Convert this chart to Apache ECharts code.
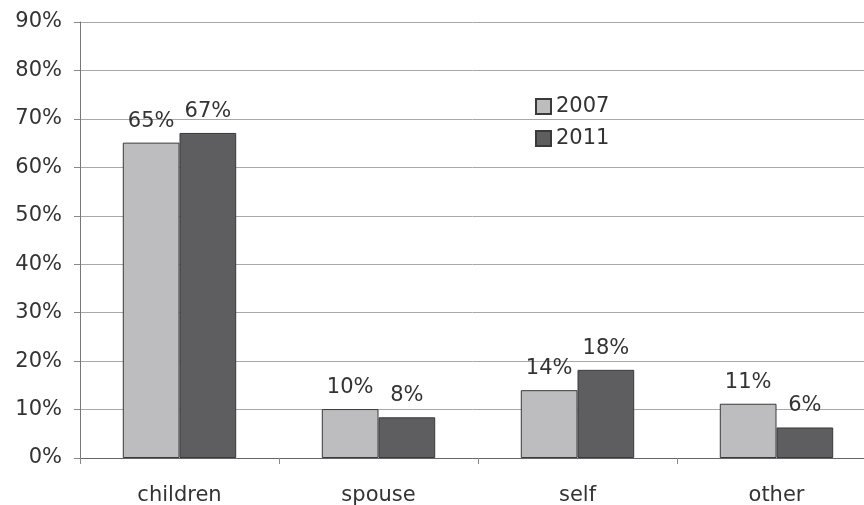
<!DOCTYPE html>
<html><head><meta charset="utf-8">
<script src="https://cdn.jsdelivr.net/npm/echarts@6/dist/echarts.min.js"></script>
<style>html,body{margin:0;padding:0;background:#fff}#c{width:864px;height:505px}</style>
</head><body><div id="c"></div>
<script>
const categories = ['children', 'spouse', 'self', 'other'];
const values2007 = [65.1, 10.1, 14.0, 11.2];
const values2011 = [67.1, 8.4, 18.2, 6.3];
const labels2007 = ['65%', '10%', '14%', '11%'];
const labels2011 = ['67%', '8%', '18%', '6%'];
const yTicks = [0, 10, 20, 30, 40, 50, 60, 70, 80, 90];

const font = 'DejaVu Sans, sans-serif';
const chart = echarts.init(document.getElementById('c'));
const mk = (name, vals, labs, color) => ({
  name, type: 'bar', data: vals, barGap: '0%', barCategoryGap: '43%',
  itemStyle: { color, borderColor: '#3a3a3a', borderWidth: 1 },
  label: { show: true, position: 'top', distance: 11, color: '#333', fontSize: 21, fontFamily: font,
    formatter: p => labs[p.dataIndex] },
  animation: false
});
chart.setOption({
  animation: false,
  grid: { left: 80, width: 796, top: 22, bottom: 47, containLabel: false, outerBoundsMode: 'none' },
  legend: {
    orient: 'vertical', left: 535, top: 96, itemWidth: 15, itemHeight: 15, itemGap: 11,
    icon: 'rect', padding: 0,
    textStyle: { fontSize: 21, color: '#333', fontFamily: font },
    data: ['2007', '2011']
  },
  xAxis: {
    type: 'category', data: categories,
    axisLine: { lineStyle: { color: '#666', width: 1 } },
    axisTick: { show: true, length: 6, lineStyle: { color: '#888' } },
    axisLabel: { fontSize: 21, color: '#333', fontFamily: font, margin: 27 }
  },
  yAxis: {
    type: 'value', min: yTicks[0], max: yTicks[yTicks.length - 1], interval: 10,
    axisLine: { show: true, lineStyle: { color: '#777', width: 1 } },
    axisTick: { show: true, length: 6, lineStyle: { color: '#888' } },
    splitLine: { lineStyle: { color: '#a8a8a8', width: 1 } },
    axisLabel: { fontSize: 21, color: '#333', fontFamily: font, margin: 18, formatter: v => v + '%' }
  },
  series: [
    mk('2007', values2007, labels2007, '#bdbdbf'),
    mk('2011', values2011, labels2011, '#5e5e60')
  ]
});
</script></body></html>
